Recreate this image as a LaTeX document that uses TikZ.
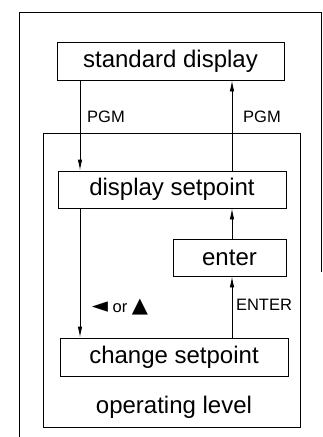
\documentclass[tikz,border=0pt]{standalone}
\usepackage{fontspec}
\setmainfont{Liberation Sans}
\newfontfamily\symfont{DejaVu Sans}
\usetikzlibrary{arrows.meta,positioning}

\begin{document}
\begin{tikzpicture}[x=1pt,y=-1pt,>={Latex[length=11pt,width=4.5pt]},
    every node/.style={inner sep=0pt},
    statebox/.style={draw,line width=0.9pt,minimum height=37pt,
      font=\fontsize{24}{28}\selectfont},
    keylabel/.style={font=\fontsize{16.5}{19}\selectfont},
    flow/.style={->,line width=0.9pt}]
  \useasboundingbox (0,0) rectangle (323,437);
  % page frame, open at the bottom
  \draw[line width=0.8pt] (19,437) -- (19,12) -- (321,12) -- (321,272);

  % operating level frame
  \node[draw,line width=0.9pt,minimum width=257pt,minimum height=294pt]
    (level) at (171.5,280) {};
  \node[font=\fontsize{24}{28}\selectfont,anchor=base] (leveltext) at (174,413)
    {operating level};

  % states
  \node[statebox,minimum width=227pt,minimum height=38pt] (standard) at (170.5,61) {standard display};
  \node[statebox,minimum width=228pt] (display) at (172,189.5) {display setpoint};
  \node[statebox,minimum width=113pt] (enter) at (229.5,257.5) {enter};
  \node[statebox,minimum width=228pt,minimum height=38pt] (change) at (174,357) {change setpoint};

  \coordinate (lx) at (80,0);
  \coordinate (rx) at (232,0);

  % transitions
  \draw[flow] (standard.south -| lx) -- (display.north -| lx);
  \draw[flow] (display.north -| rx) -- (standard.south -| rx);
  \draw[flow] (display.south -| lx) -- (change.north -| lx);
  \draw[flow] (enter.north -| rx) -- (display.south -| rx);
  \draw[flow] (change.north -| rx) -- (enter.south -| rx);

  % key labels
  \node[keylabel] (pgmdown) at (106,117) {PGM};
  \node[keylabel] (pgmup) at (262,117) {PGM};
  \node[keylabel] (arrowkeys) at (120,307)
    {{\symfont\fontsize{21}{24}\selectfont ◄} or {\symfont\fontsize{21}{24}\selectfont ▲}};
  \node[keylabel] (enterkey) at (264,305) {ENTER};
\end{tikzpicture}
\end{document}
